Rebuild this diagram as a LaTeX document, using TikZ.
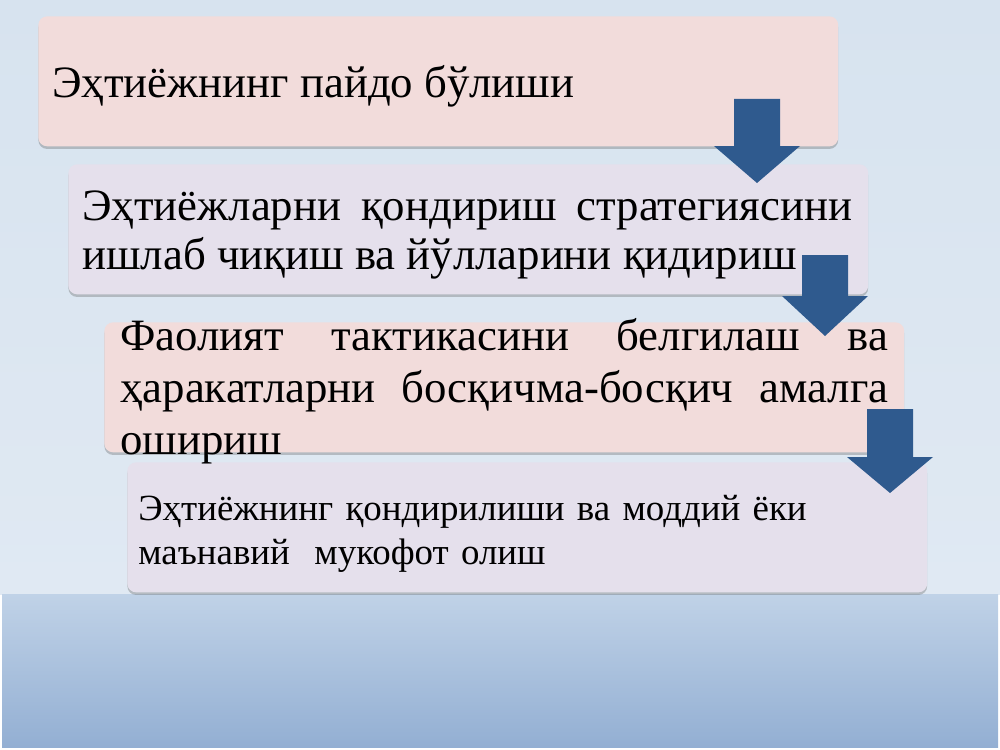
\documentclass[tikz,border=0pt]{standalone}
\usepackage{fontspec}
\setmainfont{Liberation Serif}
\usetikzlibrary{shadows}
\definecolor{rosefill}{HTML}{F2DCDB}
\definecolor{lilacfill}{HTML}{E5E0EC}
\definecolor{arrowblue}{HTML}{2F5A8E}
\definecolor{skytop}{HTML}{D7E3EF}
\definecolor{skybottom}{HTML}{E0E9F3}
\definecolor{bandtop}{HTML}{C0D2E7}
\definecolor{bandbottom}{HTML}{93AFD3}
\newcommand{\blockarrow}[4]% centre x, shaft top, neck, tip
{(#1-23,#2) -- (#1+23,#2) -- (#1+23,#3) -- (#1+43,#3) -- (#1,#4) -- (#1-43,#3) -- (#1-23,#3) -- cycle
}
\tikzset{
  stagebox/.style={rectangle, rounded corners=5pt, minimum width=16cm, minimum height=2.6cm,
    anchor=north west, inner sep=0pt,
    drop shadow={shadow xshift=0pt, shadow yshift=-1.5pt, opacity=.35, fill=black!60}},
  bigtext/.style={font=\fontsize{25.5}{28}\selectfont, inner sep=0pt},
  smalltext/.style={font=\fontsize{21}{25.5}\selectfont, inner sep=0pt}
}
\begin{document}
\begin{tikzpicture}[x=0.02cm, y=-0.02cm]
			\useasboundingbox (0,0) rectangle (1000,750);
			\shade[top color=skytop, bottom color=skybottom] (0,0) rectangle (1000,594);
			\shade[top color=bandtop, bottom color=bandbottom] (2,594) rectangle (998,747);
			\node[stagebox, fill=rosefill] (b1) at (38,16) {};
			\node[stagebox, fill=lilacfill] (b2) at (68,164) {};
			\node[stagebox, fill=rosefill] (b3) at (104,322) {};
			\node[stagebox, fill=lilacfill] (b4) at (127,462) {};
			\fill[arrowblue] \blockarrow{757}{99}{146}{183};
			\fill[arrowblue] \blockarrow{825}{255}{296}{336};
			\fill[arrowblue] \blockarrow{890}{409}{457}{493};
			\node[bigtext, anchor=base west] (t1) at (52,97) {Эҳтиёжнинг пайдо бўлиши};
			\node[bigtext, anchor=base west, text width=15.4cm, align=justify] (t2) at (82,220)
			  {Эҳтиёжларни қондириш стратегиясини\linebreak ишлаб чиқиш ва йўлларини қидириш};
			\node[bigtext, anchor=base west, text width=15.36cm, align=justify,
			  font=\fontsize{25.5}{29.8}\selectfont] (t3) at (120,350)
			  {Фаолият тактикасини белгилаш ва\linebreak ҳаракатларни босқичма-босқич амалга\linebreak ошириш};
			\node[smalltext, anchor=base west, text width=15cm, align=left] (t4) at (138,520)
			  {Эҳтиёжнинг қондирилиши ва моддий ёки\\ маънавий\ \ мукофот олиш};
\end{tikzpicture}
\end{document}
